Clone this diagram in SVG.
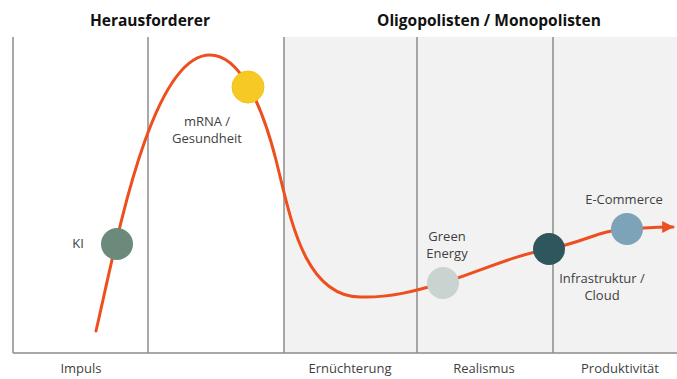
<svg xmlns="http://www.w3.org/2000/svg" width="677" height="379" viewBox="0 0 677 379">
<defs>
<style>
.title{font-family:"Open Sans","Noto Sans",sans-serif;font-weight:bold;font-size:15.5px;fill:#111;text-anchor:middle}
.lbl{font-family:"Open Sans","Noto Sans",sans-serif;font-size:13px;fill:#3f3f3f;text-anchor:middle}
.grid{stroke:#8c8c8c;stroke-width:1.5;fill:none}
.curve{stroke:#ee4f1e;stroke-width:3;fill:none;stroke-linecap:round}
</style>
<marker id="arr" viewBox="0 0 10 10" refX="9" refY="5" markerWidth="4" markerHeight="4" orient="auto" markerUnits="strokeWidth">
<path d="M0,0 L10,5 L0,10 Z" fill="#ee4f1e"/>
</marker>
</defs>
<rect width="677" height="379" fill="#ffffff"/>
<g id="background">
<rect x="284" y="37" width="393" height="316" fill="#f2f2f2"/>
<path class="grid" d="M13,37 V353 M148,37 V353 M284,37 V353 M417,37 V353 M553,37 V353 M13,353 H677"/>
</g>
<g id="titles">
<text class="title" x="150" y="26">Herausforderer</text>
<text class="title" x="489" y="26">Oligopolisten / Monopolisten</text>
</g>
<g id="phases">
<text class="lbl" x="81" y="373">Impuls</text>
<text class="lbl" x="350" y="373">Ernüchterung</text>
<text class="lbl" x="484" y="373">Realismus</text>
<text class="lbl" x="620" y="373">Produktivität</text>
</g>
<g id="connectors">
<path class="curve" marker-end="url(#arr)" d="M96,331 C115,250 150,55 210,55 C240,55 262,105 276,160 C290,215 303,296 360,297 C390,298 415,291 443,283 C480,271 515,255 549,249 C585,242 600,230 627,229 C645,228 655,227 673,227"/>
</g>
<g id="node-ki">
<circle cx="117" cy="244" r="16" fill="#6b8a7b"/>
<text class="lbl" x="78" y="248">KI</text>
</g>
<g id="node-mrna">
<circle cx="248" cy="87" r="16" fill="#f7c925" stroke="#f4c21a" stroke-width="1"/>
<text class="lbl" x="207" y="126">mRNA /</text>
<text class="lbl" x="207" y="143">Gesundheit</text>
</g>
<g id="node-green">
<circle cx="443" cy="283" r="16" fill="#c9d4d0"/>
<text class="lbl" x="447" y="241">Green</text>
<text class="lbl" x="447" y="258">Energy</text>
</g>
<g id="node-infra">
<circle cx="549" cy="249" r="16" fill="#2e565c"/>
<text class="lbl" x="602" y="283">Infrastruktur /</text>
<text class="lbl" x="602" y="300">Cloud</text>
</g>
<g id="node-ecommerce">
<circle cx="627" cy="229" r="16" fill="#7ca3b7"/>
<text class="lbl" x="624" y="204">E-Commerce</text>
</g>
</svg>
